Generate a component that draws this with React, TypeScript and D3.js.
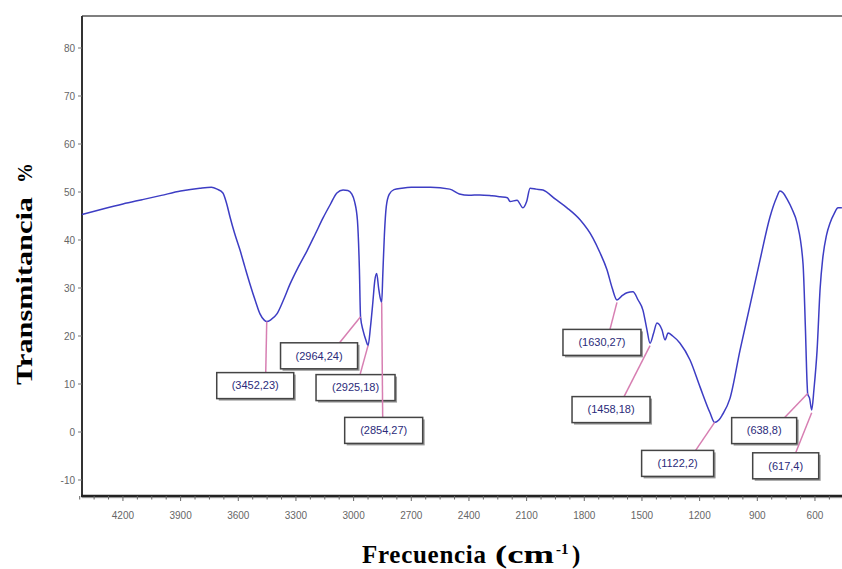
import React from "react";
import * as d3 from "d3";

const wavenumbers = [
  4413, 4300, 4200, 4100, 4000, 3900, 3800, 3740, 3710, 3680, 3660, 3643, 3620, 3591, 3565, 3539, 3510, 3487, 3465, 3452,
  3430, 3399, 3365, 3331, 3290, 3243, 3200, 3159, 3120, 3087, 3055, 3030, 3010, 2995, 2980, 2970, 2964, 2950, 2935, 2925,
  2912, 2900, 2890, 2880, 2870, 2862, 2854, 2848, 2840, 2830, 2815, 2790, 2750, 2700, 2600, 2500, 2450, 2400, 2343, 2280,
  2238, 2200, 2186, 2150, 2119, 2100, 2082, 2050, 2015, 1950, 1890, 1822, 1755, 1720, 1682, 1655, 1630, 1600, 1578, 1547,
  1520, 1495, 1475, 1458, 1440, 1422, 1396, 1380, 1364, 1340, 1302, 1250, 1198, 1146, 1122, 1100, 1083, 1042, 990, 940,
  886, 834, 800, 782, 765, 745, 720, 693, 662, 650, 641, 638, 628, 617, 605, 589, 573, 560, 540, 522, 500, 480, 460,
];
const transmittance = [
  45.3, 46.5, 47.5, 48.4, 49.3, 50.2, 50.8, 51.0, 50.6, 49.8, 47.5, 44.8, 41.5, 37.9, 34.3, 30.8, 27.2, 24.6, 23.3, 23.0,
  23.4, 24.6, 27.5, 30.8, 34.2, 37.7, 41.2, 44.6, 47.5, 49.8, 50.4, 50.3, 49.6, 48.0, 44.0, 34.0, 24.0, 21.0, 19.0, 18.0,
  22.0, 27.0, 31.5, 33.0, 30.0, 28.0, 27.0, 33.0, 41.0, 47.0, 49.5, 50.5, 50.8, 51.0, 51.0, 50.6, 49.6, 49.3, 49.4, 49.2,
  49.0, 48.8, 48.0, 48.3, 46.7, 48.0, 50.8, 50.6, 50.4, 48.5, 46.7, 44.2, 40.4, 37.5, 33.8, 30.0, 27.5, 28.5, 29.0, 29.2,
  27.5, 25.4, 21.5, 18.5, 20.5, 22.7, 21.3, 19.2, 20.6, 20.0, 18.5, 15.0, 9.4, 4.0, 2.0, 2.5, 3.5, 7.0, 17.0, 26.0,
  35.8, 44.8, 48.8, 50.2, 49.8, 48.5, 46.5, 43.5, 35.0, 22.0, 10.2, 8.0, 7.0, 4.6, 9.0, 17.0, 30.0, 36.0, 41.0, 43.5,
  45.5, 46.7, 46.7,
];

const peakWavenumbers = [3452, 2964, 2925, 2854, 1630, 1458, 1122, 638, 617];
const peakValues = [23, 24, 18, 27, 27, 18, 2, 8, 4];

const yTicks = [-10, 0, 10, 20, 30, 40, 50, 60, 70, 80];
const xTicks = [4200, 3900, 3600, 3300, 3000, 2700, 2400, 2100, 1800, 1500, 1200, 900, 600];

// layout of the label boxes relative to their peak point (pixels)
const labelLayout = [
  { dx: -50, dy: 51, w: 77, lx: 49 },
  { dx: -80, dy: 26, w: 77, lx: 59 },
  { dx: -52, dy: 29, w: 79, lx: 44 },
  { dx: -37, dy: 115, w: 78, lx: 38 },
  { dx: -54, dy: 27, w: 78, lx: 47 },
  { dx: -78, dy: 51, w: 78, lx: 52 },
  { dx: -73, dy: 28, w: 72, lx: 54 },
  { dx: -76, dy: 24, w: 65, lx: 53 },
  { dx: -59, dy: 40, w: 66, lx: 43 },
];

const W = 842;
const H = 569;
const left = 82;
const top = 16;
const bottom = 496;

export default function App() {
  const x = d3.scaleLinear().domain([4413, 450]).range([left, 843.8]);
  const y = d3.scaleLinear().domain([-13.333, 86.667]).range([bottom, top]);

  const pts: [number, number][] = wavenumbers.map((w, i) => [w, transmittance[i]]);
  const line = d3
    .line<[number, number]>()
    .x((d) => x(d[0]))
    .y((d) => y(d[1]))
    .curve(d3.curveMonotoneX);

  const minorTicks = d3.range(4425, 449, -75).filter((v) => !xTicks.includes(v));

  return (
    <svg
      width={W}
      height={H}
      style={{ position: "absolute", left: 0, top: 0, background: "#fff" }}
    >
      <rect x={0} y={0} width={W} height={H} fill="#fff" />
      {/* frame */}
      <line x1={left} y1={top} x2={W} y2={top} stroke="#555" strokeWidth={1.5} />
      <line x1={left} y1={top} x2={left} y2={bottom} stroke="#333" strokeWidth={2} />
      <line x1={left} y1={bottom + 1.5} x2={W} y2={bottom + 1.5} stroke="#bbb" strokeWidth={1.5} />
      <line x1={left - 1} y1={bottom} x2={W} y2={bottom} stroke="#222" strokeWidth={2.5} />

      {/* y ticks */}
      {yTicks.map((t) => (
        <g key={"y" + t}>
          <line x1={left - 4} x2={left} y1={y(t)} y2={y(t)} stroke="#777" strokeWidth={1} />
          <text
            x={left - 7}
            y={y(t)}
            dy="0.35em"
            textAnchor="end"
            fontFamily="Liberation Sans, Arial, sans-serif"
            fontSize={10}
            fill="#666"
          >
            {t}
          </text>
        </g>
      ))}

      {/* x ticks */}
      {minorTicks.map((t) => (
        <line key={"m" + t} x1={x(t)} x2={x(t)} y1={bottom} y2={bottom + 3.5} stroke="#666" strokeWidth={1} />
      ))}
      {xTicks.map((t) => (
        <g key={"x" + t}>
          <line x1={x(t)} x2={x(t)} y1={bottom} y2={bottom + 5} stroke="#666" strokeWidth={1} />
          <text
            x={x(t)}
            y={519}
            textAnchor="middle"
            fontFamily="Liberation Sans, Arial, sans-serif"
            fontSize={10}
            fill="#666"
          >
            {t}
          </text>
        </g>
      ))}

      {/* spectrum */}
      <path d={line(pts) || ""} fill="none" stroke="#3d3dc4" strokeWidth={1.5} strokeLinejoin="round" />

      {/* annotations */}
      {peakWavenumbers.map((w, i) => {
        const L = labelLayout[i];
        const px = x(w);
        const py = y(peakValues[i]);
        const bx = px + L.dx;
        const by = py + L.dy;
        const h = 26;
        return (
          <g key={"a" + w}>
            <line x1={bx + L.lx} y1={by} x2={px} y2={py} stroke="#d77fb2" strokeWidth={1.5} />
            <rect x={bx + 2} y={by + 2} width={L.w} height={h} fill="#9a9a9a" />
            <rect x={bx} y={by} width={L.w} height={h} fill="#fff" stroke="#444" strokeWidth={1.5} />
            <text
              x={bx + L.w / 2}
              y={by + h / 2}
              dy="0.35em"
              textAnchor="middle"
              fontFamily="Liberation Sans, Arial, sans-serif"
              fontSize={11}
              fill="#2b2b7a"
            >
              {`(${w},${peakValues[i]})`}
            </text>
          </g>
        );
      })}

      {/* axis titles */}
      <text
        transform="translate(32,385) rotate(-90)"
        fontFamily="Liberation Serif, Times New Roman, serif"
        fontWeight="bold"
        fontSize={24}
        fill="#000"
      >
        <tspan textLength={188} lengthAdjust="spacingAndGlyphs">Transmitancia</tspan>
        <tspan dx={14} fontSize={20}>%</tspan>
      </text>
      <text
        x={362}
        y={563}
        fontFamily="Liberation Serif, Times New Roman, serif"
        fontWeight="bold"
        fontSize={25}
        fill="#000"
      >
        <tspan textLength={124} lengthAdjust="spacing">Frecuencia</tspan>
        <tspan x={495} textLength={59} lengthAdjust="spacingAndGlyphs">(cm</tspan>
        <tspan x={556} dy={-9} fontSize={15}>-1</tspan>
        <tspan x={572} dy={9}>)</tspan>
      </text>
    </svg>
  );
}
